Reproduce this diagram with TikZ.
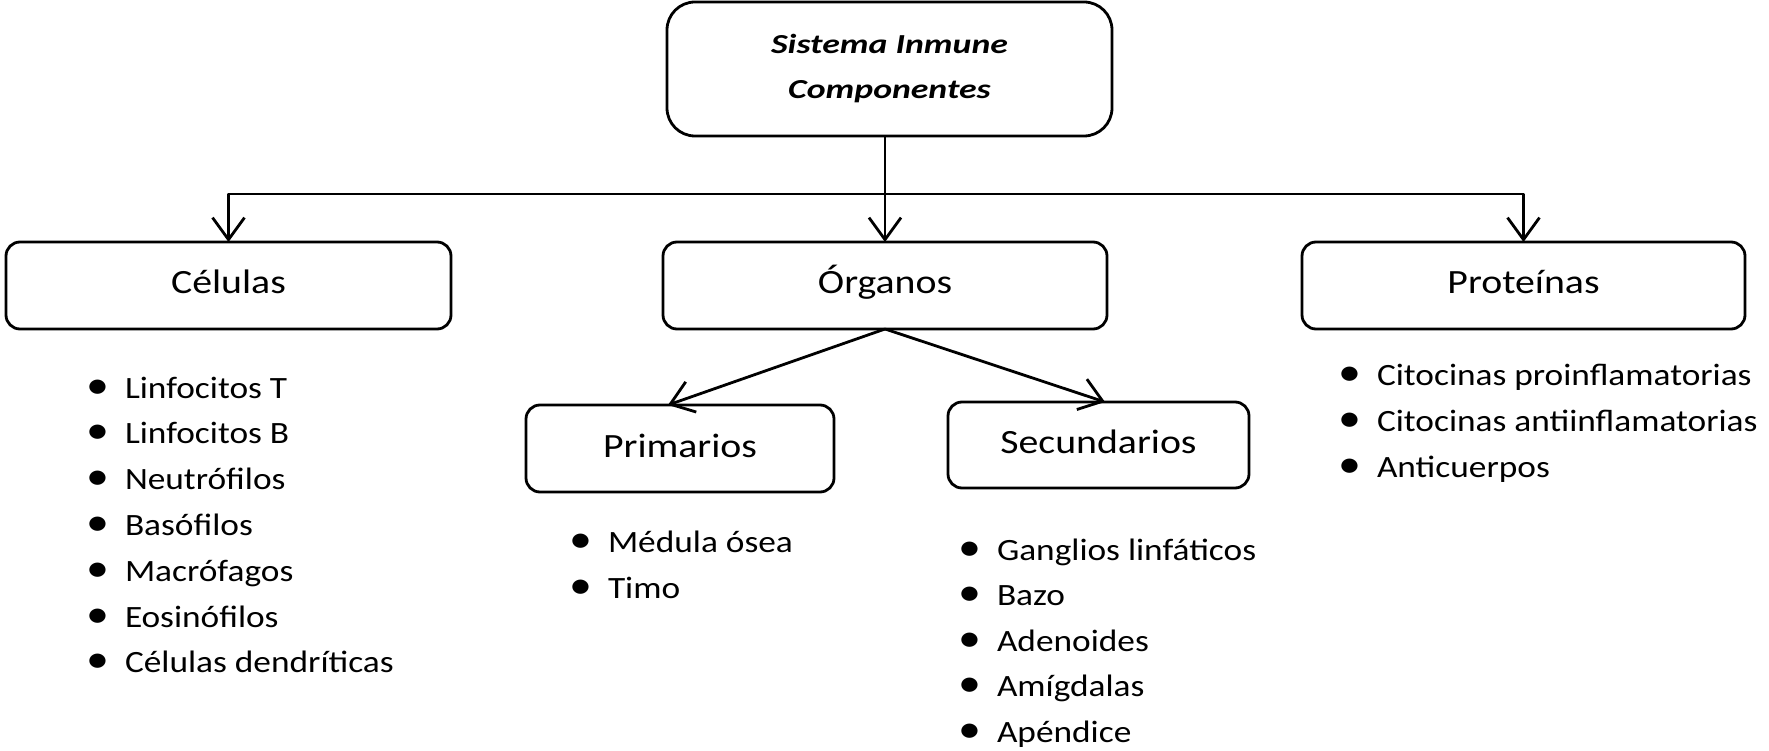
\documentclass[tikz,border=0pt]{standalone}
\usepackage{fontspec}
\setmainfont{Carlito}
\newfontfamily\boxfont[FakeStretch=1.17]{Carlito}
\newfontfamily\listfont[FakeStretch=1.14]{Carlito}
\newfontfamily\titlefont[FakeStretch=1.3]{Carlito}
\usetikzlibrary{arrows.meta,calc}
\newcommand\bul{\llap{\scalebox{1.3}{\textbullet}\hspace{16pt}}}
\tikzset{
  x=1pt, y=-1pt,
  box/.style={draw, line width=2.8pt, rounded corners=14pt, inner sep=0pt, outer sep=0pt,
    font=\boxfont\fontsize{34}{40}\selectfont, text height=17pt, text depth=0pt},
  titlebox/.style={box, rounded corners=28pt, align=center, text height=, text depth=,
    font=\titlefont\bfseries\itshape\fontsize{27.5}{45}\selectfont},
  item/.style={anchor=base west, inner sep=0pt, outer sep=0pt,
    font=\listfont\fontsize{31}{40}\selectfont},
  conn/.style={line width=2.8pt, line join=round},
  arr/.style={conn, -{Straight Barb[length=22pt,width=32pt,line width=2.8pt]}},
}
\begin{document}
\begin{tikzpicture}
\useasboundingbox (0,0) rectangle (1769,751);
\node[titlebox, minimum width=445pt, minimum height=134pt] (title) at (889.5,69)
  {Sistema Inmune\\Componentes};
\node[box, minimum width=445pt, minimum height=87pt] (celulas) at (228.5,285.5) {Células};
\node[box, minimum width=444pt, minimum height=87pt] (organos) at (885,285.5) {Órganos};
\node[box, minimum width=443pt, minimum height=87pt] (proteinas) at (1523.5,285.5) {Proteínas};
\node[box, minimum width=308pt, minimum height=87pt] (primarios) at (680,448.5) {Primarios};
\node[box, minimum width=301pt, minimum height=86pt] (secundarios) at (1098.5,445) {Secundarios};

\coordinate (hub) at (885,194);
\draw[conn] (hub |- title.south) -- (hub);
\draw[arr] (hub) -- (organos.north);
\draw[arr] (hub) -| (celulas.north);
\draw[arr] (hub) -| (proteinas.north);
\draw[arr] (organos.south) -- ([xshift=-12pt]primarios.north);
\draw[arr] (organos.south) -- ([xshift=6.5pt]secundarios.north);

\foreach \t [count=\i from 0] in {Linfocitos T, Linfocitos B, Neutrófilos, Basófilos, Macrófagos, Eosinófilos, Células dendríticas}
  \node[item] (cel\i) at (125,398+45.8*\i) {\bul\t};
\foreach \t [count=\i from 0] in {Médula ósea, Timo}
  \node[item] (pri\i) at (608,552+46.5*\i) {\bul\t};
\foreach \t [count=\i from 0] in {Ganglios linfáticos, Bazo, Adenoides, Amígdalas, Apéndice}
  \node[item] (sec\i) at (997,560+45.5*\i) {\bul\t};
\foreach \t [count=\i from 0] in {Citocinas proinflamatorias, Citocinas antiinflamatorias, Anticuerpos}
  \node[item] (pro\i) at (1377,385+46*\i) {\bul\t};
\end{tikzpicture}
\end{document}
